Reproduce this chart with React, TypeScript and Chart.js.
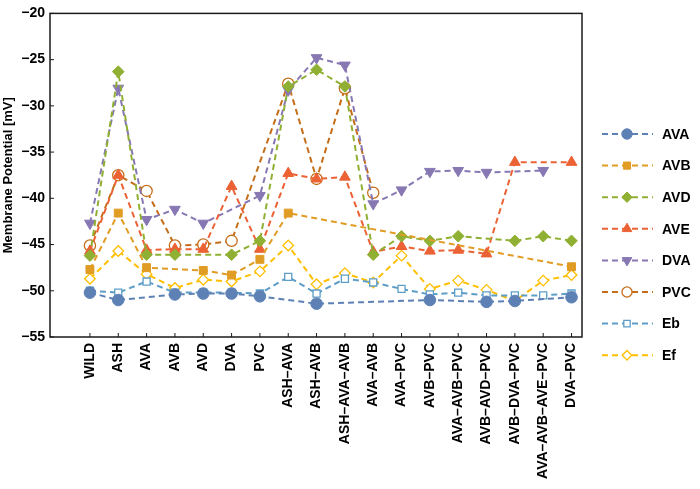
import React, { useEffect, useRef } from "react";
import { Chart, registerables } from "chart.js";
import { drawPoint } from "chart.js/helpers";

Chart.register(...registerables);

const categories = [
  "WILD", "ASH", "AVA", "AVB", "AVD", "DVA", "PVC",
  "ASH–AVA", "ASH–AVB", "ASH–AVA–AVB", "AVA–AVB", "AVA–PVC", "AVB–PVC",
  "AVA–AVB–PVC", "AVB–AVD–PVC", "AVB–DVA–PVC", "AVA–AVB–AVE–PVC", "DVA–PVC",
];

const yTicks = [-55, -50, -45, -40, -35, -30, -25, -20];

const AVA = [-50.2, -51.0, null, -50.4, -50.3, -50.3, -50.6, null, -51.4, null, null, null, -51.0, null, -51.2, -51.1, null, -50.7];
const AVB = [-47.7, -41.6, -47.5, null, -47.8, -48.3, -46.6, -41.6, null, null, null, null, null, null, null, null, null, -47.4];
const AVD = [-46.2, -26.3, -46.1, -46.1, null, -46.1, -44.6, -27.9, -26.1, -27.9, -46.1, -44.1, -44.6, -44.1, null, -44.6, -44.1, -44.6];
const AVE = [-45.7, -37.5, -45.6, -45.5, -45.5, -38.7, -45.5, -37.3, -37.9, -37.7, -45.8, -45.2, -45.7, -45.6, -46.0, -36.1, null, -36.1];
const DVA = [-42.7, -28.1, -42.3, -41.2, -42.7, null, -39.7, -28.3, -24.8, -25.6, -40.6, -39.1, -37.1, -37.0, -37.2, null, -37.0, null];
const PVC = [-45.1, -37.5, -39.2, -45.1, -45.0, -44.6, null, -27.6, -37.9, -28.1, -39.4, null, null, null, null, null, null, null];
const Eb = [-50.0, -50.2, -49.0, -50.2, -50.2, -50.2, -50.3, -48.5, -50.3, -48.7, -49.1, -49.8, -50.4, -50.2, -50.5, -50.5, -50.5, -50.3];
const Ef = [-48.7, -45.7, -48.2, -49.7, -48.8, -49.0, -47.9, -45.1, -49.3, -48.1, -49.1, -46.2, -49.8, -48.9, -49.9, -51.1, -48.9, -48.3];

const seriesNames = ["AVA", "AVB", "AVD", "AVE", "DVA", "PVC", "Eb", "Ef"];
const seriesValues = [AVA, AVB, AVD, AVE, DVA, PVC, Eb, Ef];

const styles = [
  { color: "#5E81B5", pointStyle: "circle", rotation: 0, radius: 5.8, fill: true },
  { color: "#E19C24", pointStyle: "rect", rotation: 0, radius: 5.6, fill: true },
  { color: "#8FB032", pointStyle: "rectRot", rotation: 0, radius: 5.8, fill: true },
  { color: "#EB6235", pointStyle: "triangle", rotation: 0, radius: 6.2, fill: true },
  { color: "#8778B3", pointStyle: "triangle", rotation: 180, radius: 6.2, fill: true },
  { color: "#C56E1A", pointStyle: "circle", rotation: 0, radius: 5.6, fill: false },
  { color: "#5D9EC7", pointStyle: "rect", rotation: 0, radius: 5.0, fill: false },
  { color: "#FFBF00", pointStyle: "rectRot", rotation: 0, radius: 5.3, fill: false },
];

const FONT = "'Liberation Sans', Arial, Helvetica, sans-serif";

const framePlugin = {
  id: "frameAndLegend",
  afterDatasetsDraw(chart: any) {
    const { ctx, chartArea } = chart;
    const { left, right, top, bottom } = chartArea;
    const xs = chart.scales.x;
    const ys = chart.scales.y;
    ctx.save();
    ctx.strokeStyle = "#1a1a1a";
    ctx.lineWidth = 1.5;
    ctx.setLineDash([]);
    ctx.strokeRect(left, top, right - left, bottom - top);
    ctx.lineWidth = 1;
    categories.forEach((_, i) => {
      const px = xs.getPixelForValue(i);
      ctx.beginPath();
      ctx.moveTo(px, bottom);
      ctx.lineTo(px, bottom - 4);
      ctx.stroke();
    });
    yTicks.forEach((v) => {
      const py = ys.getPixelForValue(v);
      ctx.beginPath();
      ctx.moveTo(left, py);
      ctx.lineTo(left + 4, py);
      ctx.stroke();
    });

    // legend
    const y0 = 134;
    const step = 31.6;
    seriesNames.forEach((name, i) => {
      const st = styles[i];
      const y = y0 + i * step;
      ctx.strokeStyle = st.color;
      ctx.lineWidth = 2;
      ctx.setLineDash([6, 4]);
      ctx.beginPath();
      ctx.moveTo(602, y);
      ctx.lineTo(653, y);
      ctx.stroke();
      ctx.setLineDash([]);
      ctx.fillStyle = st.fill ? st.color : "#ffffff";
      ctx.strokeStyle = st.color;
      ctx.lineWidth = st.fill ? 1 : 1.3;
      drawPoint(ctx, { pointStyle: st.pointStyle, rotation: st.rotation, radius: st.radius * 0.9, borderWidth: ctx.lineWidth }, 627, y);
      ctx.fillStyle = "#000000";
      ctx.font = `bold 14px ${FONT}`;
      ctx.textAlign = "left";
      ctx.textBaseline = "middle";
      ctx.fillText(name, 662, y + 1);
    });
    ctx.restore();
  },
};

export default function App() {
  const ref = useRef<HTMLCanvasElement | null>(null);
  useEffect(() => {
    if (!ref.current) return;
    const datasets = seriesNames.map((name, i) => {
      const st = styles[i];
      return {
        label: name,
        data: seriesValues[i].map((v, j) => ({ x: j, y: v })),
        borderColor: st.color,
        backgroundColor: st.fill ? st.color : "#ffffff",
        borderWidth: 2,
        borderDash: [6, 4],
        pointStyle: st.pointStyle,
        pointRotation: st.rotation,
        pointRadius: st.radius,
        pointBorderWidth: st.fill ? 1 : 1.3,
        pointBorderColor: st.color,
        pointBackgroundColor: st.fill ? st.color : "#ffffff",
        spanGaps: true,
        fill: false,
        tension: 0,
      };
    });
    const chart = new Chart(ref.current, {
      type: "line",
      data: { datasets },
      options: {
        animation: false,
        responsive: false,
        layout: { padding: { top: 9, right: 118, left: 0, bottom: 0 } },
        plugins: { legend: { display: false }, tooltip: { enabled: false } },
        scales: {
          x: {
            type: "linear",
            min: -1.41,
            max: 17.37,
            grid: { display: false, drawTicks: false },
            border: { display: false },
            afterBuildTicks: (scale: any) => {
              scale.ticks = categories.map((_, i) => ({ value: i }));
            },
            afterFit: (scale: any) => {
              scale.height = 152;
            },
            ticks: {
              autoSkip: false,
              minRotation: 90,
              maxRotation: 90,
              padding: 6,
              color: "#000000",
              font: { family: FONT, size: 14, weight: "bold" },
              callback: (v: any) => categories[v] ?? "",
            },
          },
          y: {
            type: "linear",
            min: -55,
            max: -20,
            grid: { display: false, drawTicks: false },
            border: { display: false },
            afterFit: (scale: any) => {
              scale.width = 50;
            },
            ticks: {
              stepSize: 5,
              padding: 5,
              color: "#000000",
              font: { family: FONT, size: 14, weight: "bold" },
              callback: (v: any) => String(v).replace("-", "\u2212"),
            },
            title: {
              display: true,
              text: "Membrane Potential [mV]",
              color: "#000000",
              padding: { top: 1, bottom: 0 },
              font: { family: FONT, size: 13, weight: "bold" },
            },
          },
        },
      },
      plugins: [framePlugin],
    });
    return () => chart.destroy();
  }, []);
  return (
    <div style={{ position: "fixed", left: 0, top: 0, width: 700, height: 489, background: "#ffffff" }}>
      <canvas ref={ref} width={700} height={489} style={{ width: 700, height: 489 }} />
    </div>
  );
}
